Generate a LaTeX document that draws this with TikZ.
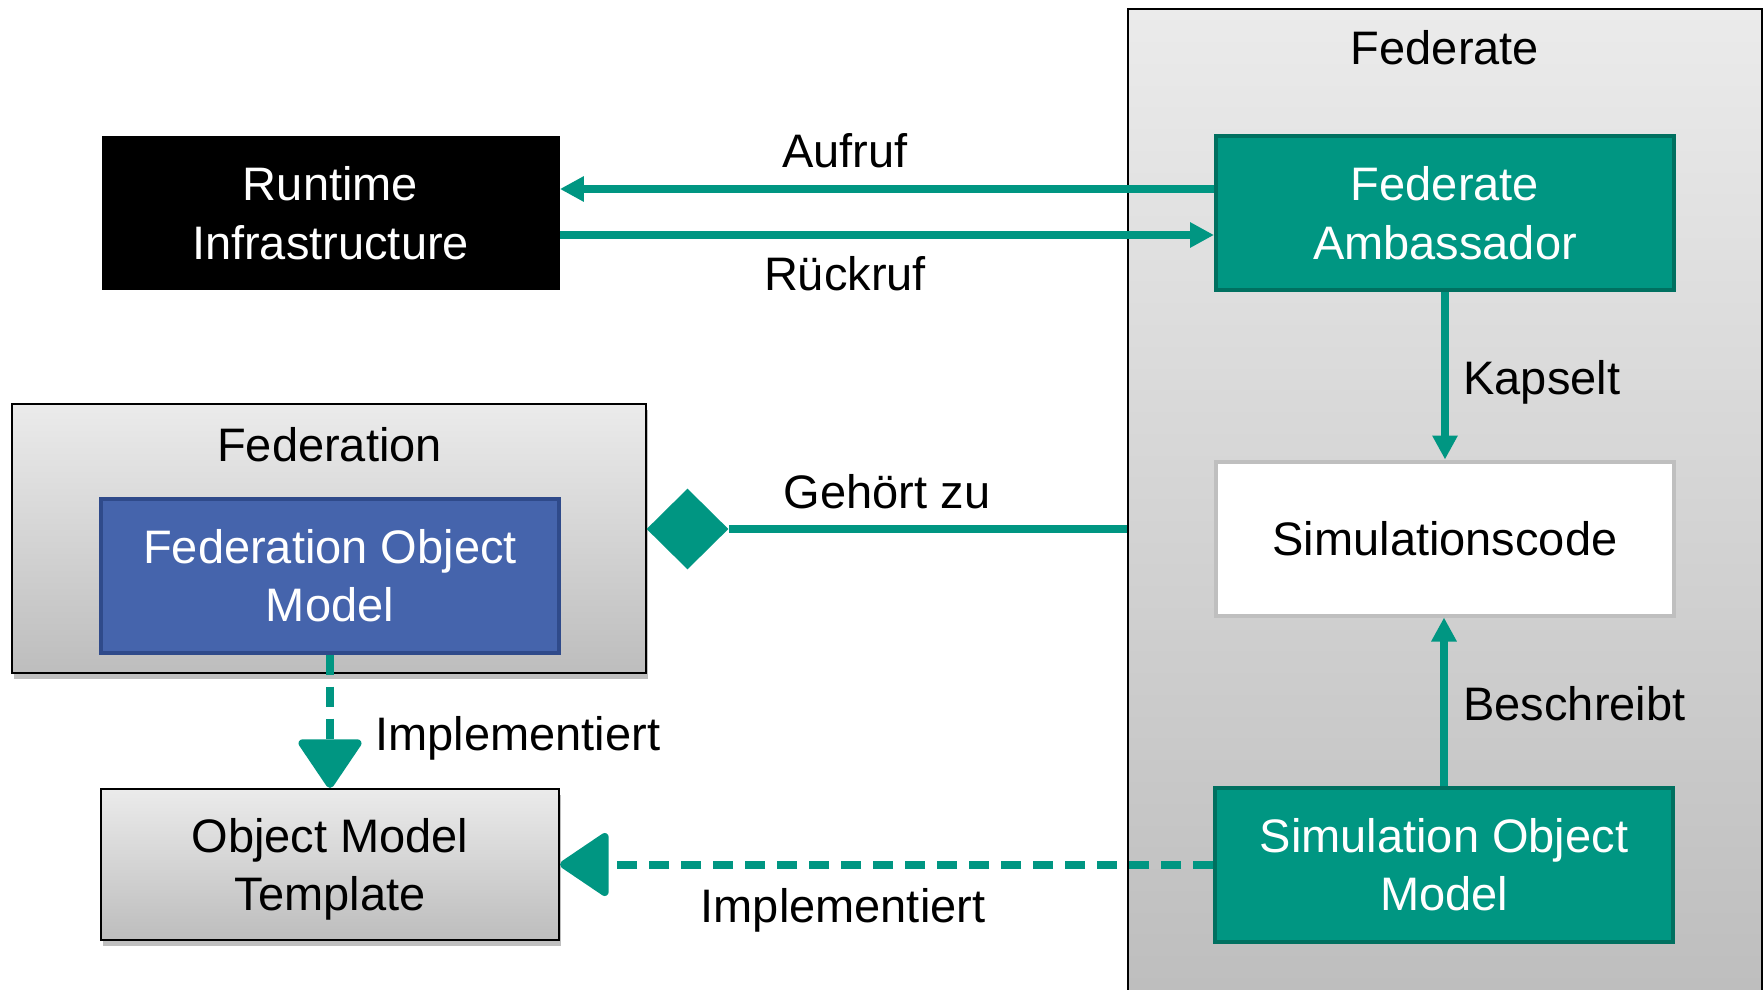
\documentclass[tikz,border=0pt]{standalone}
\usepackage{fontspec}
\setmainfont{Liberation Sans}
\usetikzlibrary{arrows.meta,shapes.geometric,shadows}

\definecolor{fedteal}{HTML}{009682}
\definecolor{fedtealdark}{HTML}{007060}
\definecolor{fomblue}{HTML}{4564AC}
\definecolor{fomborder}{HTML}{2F4A8A}
\definecolor{codegray}{HTML}{BFBFBF}
\definecolor{boxtop}{HTML}{EBEBEB}
\definecolor{boxbottom}{HTML}{BDBDBD}

\begin{document}
\begin{tikzpicture}[x=0.5pt,y=-0.5pt,
  every node/.style={font=\fontsize{23.5pt}{29.2pt}\selectfont},
  box/.style={rectangle, minimum width=229pt, minimum height=77pt,
    align=center, inner sep=0pt, text depth=0pt},
  tealbox/.style={box, fill=fedteal, draw=fedtealdark, line width=2pt, text=white},
  shaded/.style={draw=black, line width=1pt, top color=boxtop, bottom color=boxbottom,
    drop shadow={shadow xshift=1pt, shadow yshift=-3pt, opacity=0.25, fill=black}},
  lab/.style={inner sep=0pt},
  conn/.style={draw=fedteal, line width=4pt},
  small/.style={-{Triangle[length=12pt,width=12pt]}},
  big/.style={-{Triangle[length=26pt,width=34pt,round]}},
  dashconn/.style={conn, dash pattern=on 10pt off 6pt}]

\useasboundingbox (0,0) rectangle (1763,990);

% Federate container on the right
\node[shaded, minimum width=317pt, minimum height=500.5pt, inner sep=0pt] (fedt) at (1445,509.5) {};
\node[lab, anchor=base] (fedttitle) at (1445,65) {Federate};

% Federation container on the left
\node[shaded, minimum width=317pt, minimum height=134.5pt, inner sep=0pt] (fedn) at (329,538.5) {};
\node[lab, anchor=base] (fedntitle) at (329.5,461) {Federation};

% Boxes
\node[box, fill=black, text=white] (rti) at (330.5,213) {Runtime\\Infrastructure};
\node[tealbox] (fa) at (1445,213) {Federate\\Ambassador};
\node[box, fill=white, draw=codegray, line width=2pt] (sc) at (1445,538.5) {Simulationscode};
\node[tealbox] (som) at (1444,864.5) {Simulation Object\\Model};
\node[box, fill=fomblue, draw=fomborder, line width=2pt, text=white] (fom) at (330,575.5) {Federation Object\\Model};
\node[box, shaded, minimum height=75.5pt] (omt) at (330,864.5) {Object Model\\Template};

% Aggregation diamond
\node[diamond, fill=fedteal, minimum width=41pt, minimum height=40.5pt, inner sep=0pt] (dia) at (687.5,529) {};

% Connectors
\draw[conn, small] ([yshift=12pt]fa.west) -- ([yshift=12pt]rti.east);
\draw[conn, small] ([yshift=-11pt]rti.east) -- ([yshift=-11pt]fa.west);
\draw[conn, small] (fa.south) -- (sc.north);
\draw[conn, small] (som.north) -- (som.north |- sc.south);
\draw[conn] (dia.east) -- (dia.east -| fedt.west);
\draw[dashconn, big] (fom.south) -- (omt.north);
\draw[dashconn, big] (som.west) -- (som.west -| omt.east);

% Connector labels
\node[lab, anchor=base] (laufruf) at (845,168) {Aufruf};
\node[lab, anchor=base] (lrueck) at (845,290) {Rückruf};
\node[lab, anchor=base west] (lkaps) at (1463,394) {Kapselt};
\node[lab, anchor=base west] (lbesch) at (1463,720) {Beschreibt};
\node[lab, anchor=base] (lgeh) at (887,508) {Gehört zu};
\node[lab, anchor=base west] (limpl1) at (375,750) {Implementiert};
\node[lab, anchor=base] (limpl2) at (843,922) {Implementiert};
\end{tikzpicture}
\end{document}
